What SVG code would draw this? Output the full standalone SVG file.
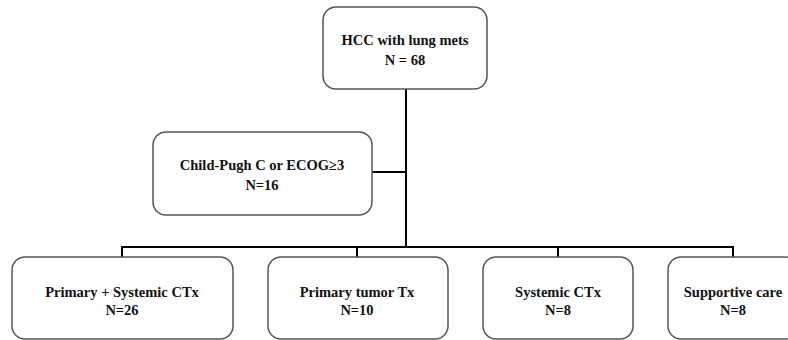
<svg xmlns="http://www.w3.org/2000/svg" width="788" height="340" viewBox="0 0 788 340">
<style>
.box{fill:#fff;stroke:#555;stroke-width:1.5}
.t{font-family:'Liberation Serif','Times New Roman',Times,serif;font-weight:bold;font-size:14.5px;fill:#111;text-anchor:middle}
.c{fill:none;stroke:#000;stroke-width:2}
</style>
<rect width="788" height="340" fill="#fff"/>
<g id="connectors">
<path class="c" d="M406,89 V247"/>
<path class="c" d="M372,172 H406"/>
<path class="c" d="M122,257 V247 H733 V257"/>
<path class="c" d="M357,247 V257"/>
<path class="c" d="M558,247 V257"/>
</g>
<g id="n-hcc">
<rect class="box" x="323" y="7" width="164" height="82" rx="13"/>
<text class="t" x="405" y="45">HCC with lung mets</text>
<text class="t" x="405" y="65">N = 68</text>
</g>
<g id="n-excluded">
<rect class="box" x="153" y="132" width="219" height="83" rx="13"/>
<text class="t" x="262" y="170">Child-Pugh C or ECOG≥3</text>
<text class="t" x="262" y="190">N=16</text>
</g>
<g id="n-primary-systemic">
<rect class="box" x="12" y="257" width="221" height="82" rx="13"/>
<text class="t" x="122" y="297">Primary + Systemic CTx</text>
<text class="t" x="122" y="315">N=26</text>
</g>
<g id="n-primary">
<rect class="box" x="268" y="257" width="180" height="82" rx="13"/>
<text class="t" x="357" y="297">Primary tumor Tx</text>
<text class="t" x="357" y="315">N=10</text>
</g>
<g id="n-systemic">
<rect class="box" x="483" y="257" width="150" height="82" rx="13"/>
<text class="t" x="558" y="297">Systemic CTx</text>
<text class="t" x="558" y="315">N=8</text>
</g>
<g id="n-supportive">
<rect class="box" x="668" y="257" width="130" height="82" rx="13"/>
<text class="t" x="733" y="297">Supportive care</text>
<text class="t" x="733" y="315">N=8</text>
</g>
</svg>
